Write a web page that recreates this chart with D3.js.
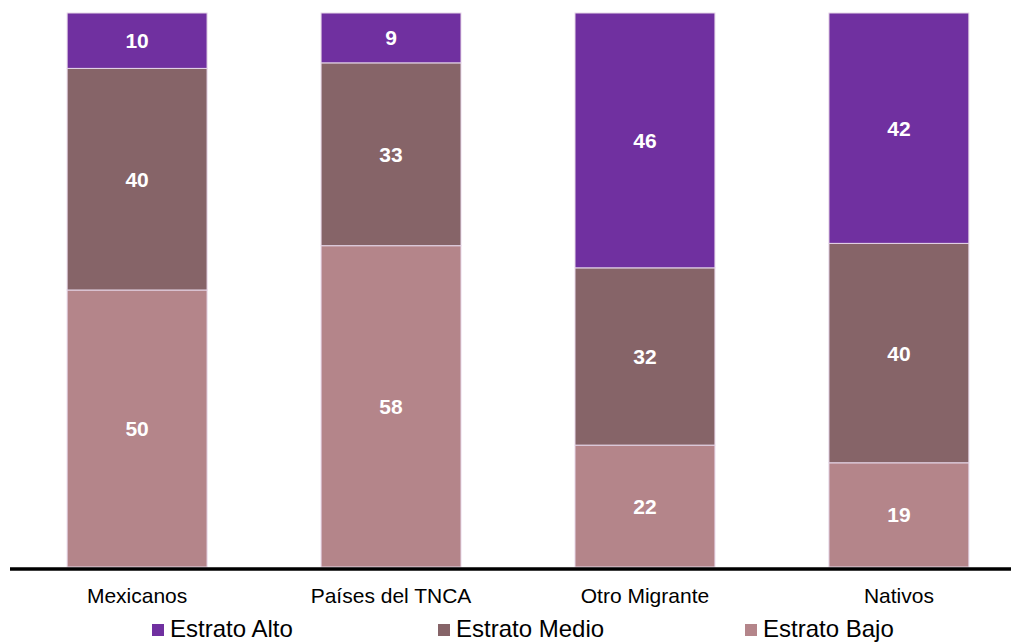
<!DOCTYPE html>
<html><head><meta charset="utf-8">
<script src="https://cdn.jsdelivr.net/npm/d3@7"></script>
<style>body{margin:0;background:#fff}svg{display:block;font-family:"Liberation Sans",Arial,sans-serif}</style>
</head><body><svg id="c" width="1011" height="642"></svg>
<script>
const categories = ["Mexicanos","Países del TNCA","Otro Migrante","Nativos"];
const series = ["Estrato Bajo","Estrato Medio","Estrato Alto"];
const bajo  = [50,58,22,19];
const medio = [40,33,32,40];
const alto  = [10,9,46,42];
const colors = {"Estrato Bajo":"#B4858A","Estrato Medio":"#866468","Estrato Alto":"#7030A0"};
const legendOrder = ["Estrato Alto","Estrato Medio","Estrato Bajo"];

const svg = d3.select("#c");
const rows = categories.map((c,i)=>({cat:c,"Estrato Bajo":bajo[i],"Estrato Medio":medio[i],"Estrato Alto":alto[i]}));
const stack = d3.stack().keys(series).offset(d3.stackOffsetExpand)(rows);

const x = d3.scaleBand().domain(categories).range([10,1026]).paddingInner(0.449).paddingOuter(0.225);
const y = d3.scaleLinear().domain([0,1]).range([567,13]);

const g = svg.append("g");
stack.forEach(s=>{
  g.selectAll(null).data(s).enter().append("rect")
    .attr("x",d=>x(d.data.cat)).attr("width",x.bandwidth())
    .attr("y",d=>y(d[1])).attr("height",d=>y(d[0])-y(d[1]))
    .attr("fill",colors[s.key]).attr("stroke","#e6d6e8").attr("stroke-width",1);
  g.selectAll(null).data(s).enter().append("text")
    .attr("x",d=>x(d.data.cat)+x.bandwidth()/2).attr("y",d=>(y(d[0])+y(d[1]))/2+7.5)
    .attr("text-anchor","middle").attr("fill","#fff").attr("font-weight","bold").attr("font-size",21)
    .text(d=>d.data[s.key]);
});

svg.append("line").attr("x1",10).attr("x2",1011).attr("y1",569).attr("y2",569).attr("stroke","#000").attr("stroke-width",3.5);

const ax = svg.append("g").attr("transform","translate(0,570)").call(d3.axisBottom(x).tickSize(0).tickPadding(0));
ax.select(".domain").remove();
ax.selectAll("text").attr("font-size",21).attr("fill","#000").attr("dy",0).attr("y",33)
  .attr("font-family","Liberation Sans, Arial, sans-serif");

const lx = [152,438,745];
const lg = svg.append("g");
legendOrder.forEach((k,i)=>{
  lg.append("rect").attr("x",lx[i]).attr("y",624).attr("width",12).attr("height",12).attr("fill",colors[k]);
  lg.append("text").attr("x",lx[i]+18).attr("y",637).attr("font-size",24).attr("fill","#000").text(k);
});
</script></body></html>
